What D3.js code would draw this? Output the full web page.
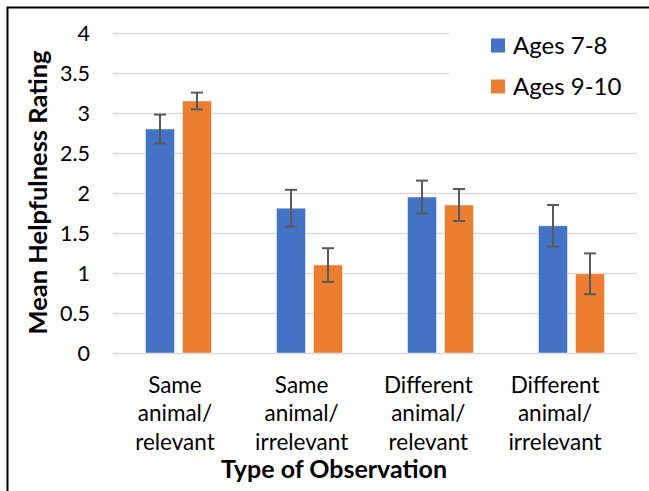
<!DOCTYPE html>
<html><head><meta charset="utf-8">
<script src="https://cdn.jsdelivr.net/npm/d3@7"></script>
<style>html,body{margin:0;padding:0;background:#fff;}svg{display:block;}</style>
</head><body>
<script>
const categories = [["Same","animal/","relevant"],["Same","animal/","irrelevant"],["Different","animal/","relevant"],["Different","animal/","irrelevant"]];
const seriesNames = ["Ages 7-8","Ages 9-10"];
const ages78 = [2.80, 1.81, 1.95, 1.59];
const ages910 = [3.15, 1.10, 1.85, 0.99];
const err78 = [0.18, 0.23, 0.205, 0.26];
const err910 = [0.105, 0.21, 0.20, 0.255];
const yTicks = [0, 0.5, 1, 1.5, 2, 2.5, 3, 3.5, 4];
const colors = ["#4472C4", "#ED7D31"];

const W = 649, H = 491;
const svg = d3.select("body").append("svg").attr("width", W).attr("height", H);
const FONT = "Lato, 'Open Sans', sans-serif";

// border (top & left visible)
svg.append("rect").attr("x", 7.5).attr("y", 7.5).attr("width", 660).attr("height", 500)
  .attr("fill", "none").attr("stroke", "#000").attr("stroke-width", 2);

const keys = categories.map((c, i) => "c" + i);
const x = d3.scaleBand().domain(keys).range([113, 637]).paddingInner(0).paddingOuter(0);
const xInner = d3.scaleBand().domain([0, 1]).range([32.5, 98.5]).paddingInner(8 / 37);
const y = d3.scaleLinear().domain([0, 4]).range([353, 33]);

// gridlines
const yAxis = d3.axisLeft(y).tickValues(yTicks).tickSize(-(637 - 113)).tickPadding(23)
  .tickFormat(d => String(d));
const gy = svg.append("g").attr("transform", "translate(113,0)").call(yAxis);
gy.select(".domain").remove();
gy.selectAll(".tick line").attr("stroke", "#d9d9d9").attr("stroke-width", 1.5);
gy.selectAll(".tick text").attr("font-family", FONT).attr("font-size", 21.5).attr("fill", "#000")
  .attr("dy", "0.36em");

// bars
const data = [];
keys.forEach((k, i) => {
  data.push({k, s: 0, v: ages78[i], e: err78[i]});
  data.push({k, s: 1, v: ages910[i], e: err910[i]});
});
svg.append("g").selectAll("rect").data(data).join("rect")
  .attr("x", d => x(d.k) + xInner(d.s))
  .attr("width", xInner.bandwidth())
  .attr("y", d => y(d.v))
  .attr("height", d => y(0) - y(d.v))
  .attr("fill", d => colors[d.s])
  .attr("stroke", "#fff").attr("stroke-opacity", 0.45).attr("stroke-width", 1);

// error bars
const eg = svg.append("g").attr("stroke", "#595959").attr("stroke-width", 2).attr("fill", "none");
data.forEach(d => {
  const cx = x(d.k) + xInner(d.s) + xInner.bandwidth() / 2;
  const y1 = y(d.v + d.e), y2 = y(d.v - d.e);
  eg.append("line").attr("x1", cx).attr("x2", cx).attr("y1", y1).attr("y2", y2);
  eg.append("line").attr("x1", cx - 6).attr("x2", cx + 6).attr("y1", y1).attr("y2", y1);
  eg.append("line").attr("x1", cx - 6).attr("x2", cx + 6).attr("y1", y2).attr("y2", y2);
});

// category labels
const xLab = d3.scaleBand().domain(keys).range([111.6, 618.4]);
const lg = svg.append("g").attr("font-family", FONT).attr("font-size", 22.5).attr("fill", "#000")
  .attr("text-anchor", "middle");
categories.forEach((lines, i) => {
  const cx = xLab(keys[i]) + xLab.bandwidth() / 2;
  const t = lg.append("text").attr("x", cx).attr("y", 392.5);
  lines.forEach((ln, j) => t.append("tspan").attr("x", cx).attr("y", 392.5 + j * 28.8).text(ln));
});

// axis titles
svg.append("text").attr("x", 334).attr("y", 478).attr("text-anchor", "middle")
  .attr("font-family", FONT).attr("font-weight", "bold").attr("font-size", 25).text("Type of Observation");
svg.append("text").attr("transform", "translate(46.5,192.5) rotate(-90)").attr("text-anchor", "middle")
  .attr("font-family", FONT).attr("font-weight", "bold").attr("font-size", 25.5).text("Mean Helpfulness Rating");

// legend
const leg = svg.append("g");
leg.append("rect").attr("x", 449).attr("y", 24).attr("width", 190).attr("height", 80).attr("fill", "#fff");
seriesNames.forEach((n, i) => {
  const cy = 45.5 + i * 41;
  leg.append("rect").attr("x", 491).attr("y", cy - 7).attr("width", 14).attr("height", 14).attr("fill", colors[i]);
  leg.append("text").attr("x", 513).attr("y", cy).attr("dy", "0.35em").attr("font-family", FONT)
    .attr("font-size", 24).attr("fill", "#000").text(n);
});
</script>
</body></html>
